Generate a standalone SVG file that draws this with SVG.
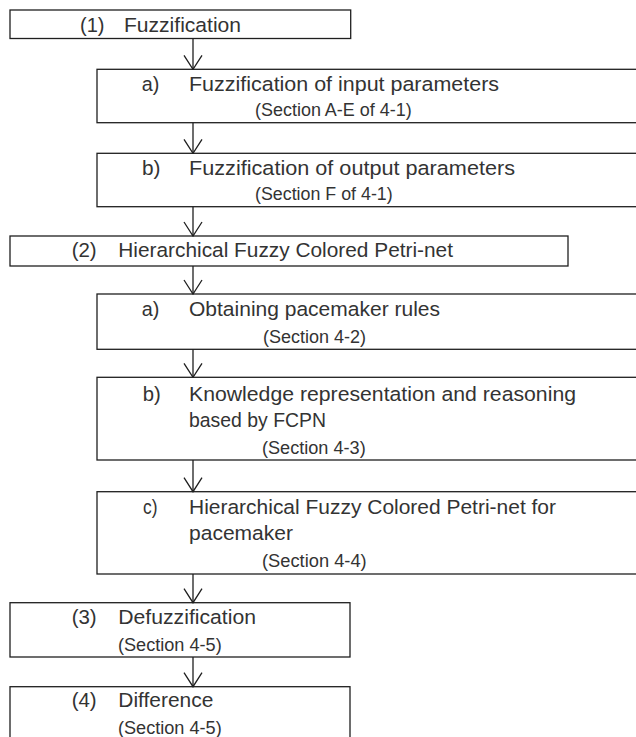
<svg xmlns="http://www.w3.org/2000/svg" width="636" height="737" viewBox="0 0 636 737">
  <style>
    .box { fill: #ffffff; stroke: #1f1f1f; stroke-width: 1.3; }
    .main { font-family: "Liberation Sans", Arial, sans-serif; font-size: 20.5px; fill: #333333; }
    .sec { font-family: "Liberation Sans", Arial, sans-serif; font-size: 17.5px; fill: #333333; }
    .link { fill: none; stroke: #1f1f1f; stroke-width: 1.3; marker-end: url(#vhead); }
  </style>
  <defs>
    <marker id="vhead" viewBox="-16 -10 17 20" markerWidth="17" markerHeight="20" refX="0" refY="0" orient="auto" markerUnits="userSpaceOnUse">
      <path d="M-14,-9 L0,0 L-14,9" fill="none" stroke="#1f1f1f" stroke-width="1.3"/>
    </marker>
  </defs>
  <rect width="636" height="737" fill="#ffffff"/>

  <!-- (1) Fuzzification -->
  <g id="n1">
    <rect class="box" x="10" y="10" width="340.7" height="28.5"/>
    <text class="main" x="80" y="31.5" textLength="24.5" lengthAdjust="spacingAndGlyphs">(1)</text>
    <text class="main" x="124" y="31.5" textLength="117" lengthAdjust="spacingAndGlyphs">Fuzzification</text>
  </g>

  <!-- a) input parameters -->
  <g id="n1a">
    <rect class="box" x="97" y="69.3" width="560" height="53.4"/>
    <text class="main" x="141.7" y="91" textLength="17.6" lengthAdjust="spacingAndGlyphs">a)</text>
    <text class="main" x="189" y="91" textLength="310" lengthAdjust="spacingAndGlyphs">Fuzzification of input parameters</text>
    <text class="sec" x="255" y="116" textLength="156.7" lengthAdjust="spacingAndGlyphs">(Section A-E of 4-1)</text>
  </g>

  <!-- b) output parameters -->
  <g id="n1b">
    <rect class="box" x="97" y="153.3" width="560" height="53.4"/>
    <text class="main" x="142" y="175" textLength="18.5" lengthAdjust="spacingAndGlyphs">b)</text>
    <text class="main" x="189" y="175" textLength="326" lengthAdjust="spacingAndGlyphs">Fuzzification of output parameters</text>
    <text class="sec" x="255" y="200" textLength="137.7" lengthAdjust="spacingAndGlyphs">(Section F of 4-1)</text>
  </g>

  <!-- (2) Hierarchical Fuzzy Colored Petri-net -->
  <g id="n2">
    <rect class="box" x="10" y="236" width="558" height="30"/>
    <text class="main" x="71.7" y="256.7" textLength="25" lengthAdjust="spacingAndGlyphs">(2)</text>
    <text class="main" x="118.3" y="256.7" textLength="334.7" lengthAdjust="spacingAndGlyphs">Hierarchical Fuzzy Colored Petri-net</text>
  </g>

  <!-- a) pacemaker rules -->
  <g id="n2a">
    <rect class="box" x="97" y="294" width="560" height="55.3"/>
    <text class="main" x="141.7" y="316" textLength="17.6" lengthAdjust="spacingAndGlyphs">a)</text>
    <text class="main" x="189" y="316" textLength="251" lengthAdjust="spacingAndGlyphs">Obtaining pacemaker rules</text>
    <text class="sec" x="263" y="342.8" textLength="103" lengthAdjust="spacingAndGlyphs">(Section 4-2)</text>
  </g>

  <!-- b) knowledge representation -->
  <g id="n2b">
    <rect class="box" x="97" y="377.3" width="560" height="82.7"/>
    <text class="main" x="142.7" y="400.5" textLength="18" lengthAdjust="spacingAndGlyphs">b)</text>
    <text class="main" x="189" y="400.5" textLength="387" lengthAdjust="spacingAndGlyphs">Knowledge representation and reasoning</text>
    <text class="main" x="189" y="426.5" textLength="137" lengthAdjust="spacingAndGlyphs">based by FCPN</text>
    <text class="sec" x="262" y="454" textLength="103.7" lengthAdjust="spacingAndGlyphs">(Section 4-3)</text>
  </g>

  <!-- c) HFCPN for pacemaker -->
  <g id="n2c">
    <rect class="box" x="97" y="491.7" width="560" height="82.3"/>
    <text class="main" x="143" y="513.5" textLength="14.5" lengthAdjust="spacingAndGlyphs">c)</text>
    <text class="main" x="189" y="513.5" textLength="367" lengthAdjust="spacingAndGlyphs">Hierarchical Fuzzy Colored Petri-net for</text>
    <text class="main" x="189" y="539.5" textLength="104" lengthAdjust="spacingAndGlyphs">pacemaker</text>
    <text class="sec" x="262" y="567.3" textLength="104.7" lengthAdjust="spacingAndGlyphs">(Section 4-4)</text>
  </g>

  <!-- (3) Defuzzification -->
  <g id="n3">
    <rect class="box" x="10" y="602.7" width="340" height="54.3"/>
    <text class="main" x="71.7" y="623.5" textLength="25" lengthAdjust="spacingAndGlyphs">(3)</text>
    <text class="main" x="118.3" y="623.5" textLength="137.7" lengthAdjust="spacingAndGlyphs">Defuzzification</text>
    <text class="sec" x="118" y="650.7" textLength="103.7" lengthAdjust="spacingAndGlyphs">(Section 4-5)</text>
  </g>

  <!-- (4) Difference -->
  <g id="n4">
    <rect class="box" x="10" y="686.7" width="340" height="60"/>
    <text class="main" x="71.7" y="707.3" textLength="25" lengthAdjust="spacingAndGlyphs">(4)</text>
    <text class="main" x="118.3" y="707.3" textLength="95" lengthAdjust="spacingAndGlyphs">Difference</text>
    <text class="sec" x="118" y="734" textLength="103.7" lengthAdjust="spacingAndGlyphs">(Section 4-5)</text>
  </g>

  <!-- connectors -->
  <g id="connectors">
    <path class="link" d="M193,38.5 V69.3"/>
    <path class="link" d="M193,122.7 V153.3"/>
    <path class="link" d="M193,206.7 V236"/>
    <path class="link" d="M193,266 V294"/>
    <path class="link" d="M193,349.3 V377.3"/>
    <path class="link" d="M193,460 V491.7"/>
    <path class="link" d="M193,574 V602.7"/>
    <path class="link" d="M193,657 V686.7"/>
  </g>
</svg>
